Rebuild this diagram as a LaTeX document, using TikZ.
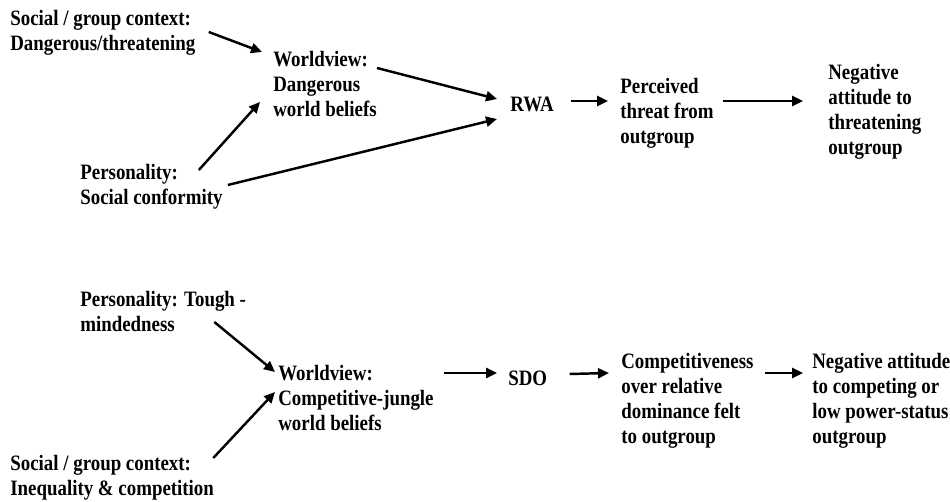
\documentclass[tikz,border=0pt]{standalone}
\usepackage{fontspec}
\setmainfont{Liberation Serif}[FakeStretch=0.86]
\usetikzlibrary{arrows.meta,positioning,calc}

\begin{document}
\begin{tikzpicture}[x=0.02cm, y=-0.02cm,
  txt/.style={anchor=west,align=left,inner sep=0pt,
    font=\fontsize{12.5pt}{14.23pt}\selectfont\bfseries},
  e/.style={-{Triangle[length=2.2mm,width=2mm]},line width=1.4pt}]

\useasboundingbox (0,0) rectangle (950,502);

\node[txt] (ctx1) at (10,33) {Social / group context:\\Dangerous/threatening};
\node[txt] (wv1) at (273,84) {Worldview:\\Dangerous\\world beliefs};
\node[txt] (per1) at (80,187) {Personality:\\Social conformity};
\node[txt] (rwa) at (510,104) {RWA};
\node[txt] (perc) at (620,113) {Perceived\\threat from\\outgroup};
\node[txt] (neg1) at (828,112) {Negative\\attitude to\\threatening\\outgroup};

\node[txt] (per2) at (80,311) {Personality: Tough -\\mindedness};
\node[txt] (wv2) at (278,398) {Worldview:\\Competitive-jungle\\world beliefs};
\node[txt] (ctx2) at (10,478) {Social / group context:\\Inequality \& competition};
\node[txt] (sdo) at (508,378) {SDO};
\node[txt] (comp) at (621,401) {Competitiveness\\over relative\\dominance felt\\to outgroup};
\node[txt] (neg2) at (812,401) {Negative attitude\\to competing or\\low power-status\\outgroup};

\draw[e] ([shift={(13,-1)}]ctx1.east) -- ([shift={(-11,-32)}]wv1.west);
\draw[e] ([shift={(-24,-17)}]per1.east) -- ([shift={(-13,18)}]wv1.west);
\draw[e] ([shift={(0,-16)}]wv1.east) -- ([shift={(-13,-5)}]rwa.west);
\draw[e] ([shift={(5,-2)}]per1.east) -- ([shift={(-13,15)}]rwa.west);
\draw[e] ([shift={(17,-3)}]rwa.east) -- ([shift={(-12,-12)}]perc.west);
\draw[e] ([shift={(9,-12)}]perc.east) -- ([shift={(-25,-11)}]neg1.west);

\draw[e] ([shift={(-32,11)}]per2.east) -- ([shift={(-3,-26)}]wv2.west);
\draw[e] ([shift={(-1,-20)}]ctx2.east) -- ([shift={(-3,-6)}]wv2.west);
\draw[e] ([shift={(10,-25)}]wv2.east) -- ([shift={(-11,-5)}]sdo.west);
\draw[e] ([shift={(22,-4)}]sdo.east) -- ([shift={(-12,-28)}]comp.west);
\draw[e] ([shift={(11,-28)}]comp.east) -- ([shift={(-9,-28)}]neg2.west);
\end{tikzpicture}
\end{document}
